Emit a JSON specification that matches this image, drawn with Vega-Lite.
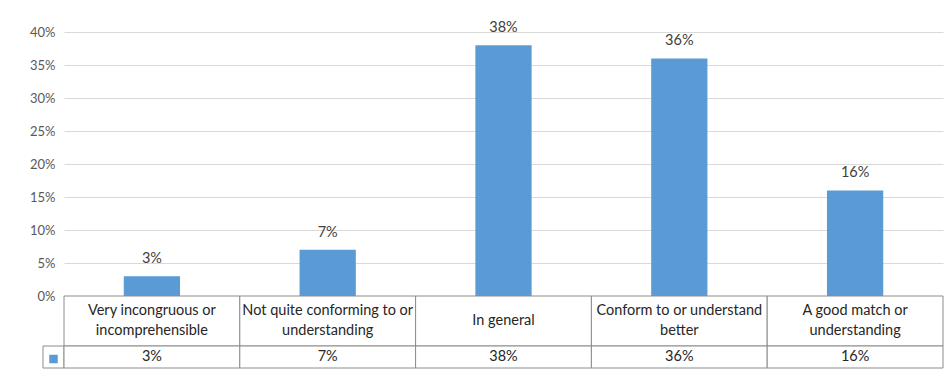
{
  "$schema": "https://vega.github.io/schema/vega-lite/v6.json",
  "background": "white",
  "padding": {"left": 29, "top": 20, "right": 4, "bottom": 10},
  "datasets": {
    "answers": [
      {"category": "Very incongruous or\nincomprehensible", "share": 0.03},
      {"category": "Not quite conforming to or\nunderstanding", "share": 0.07},
      {"category": "In general", "share": 0.38},
      {"category": "Conform to or understand\nbetter", "share": 0.36},
      {"category": "A good match or\nunderstanding", "share": 0.16}
    ],
    "series": [{"series": "Share"}]
  },
  "columns": 2,
  "spacing": 0,
  "bounds": "flush",
  "concat": [
    {
      "width": 21,
      "height": 264,
      "data": {"values": []},
      "mark": "point"
    },
    {
      "width": 879,
      "height": 264,
      "data": {"name": "answers"},
      "encoding": {
        "x": {
          "field": "category",
          "type": "nominal",
          "sort": null,
          "axis": null,
          "scale": {"paddingInner": 0.68, "paddingOuter": 0.34}
        },
        "y": {
          "field": "share",
          "type": "quantitative",
          "scale": {"domain": [0, 0.4], "nice": false},
          "axis": {
            "values": [0, 0.05, 0.1, 0.15, 0.2, 0.25, 0.3, 0.35, 0.4],
            "format": ".0%",
            "title": null,
            "domain": false,
            "ticks": false,
            "grid": true,
            "gridColor": "#d9d9d9",
            "gridWidth": 1,
            "labelPadding": 9,
            "labelFontSize": 13,
            "labelColor": "#595959"
          }
        }
      },
      "layer": [
        {"mark": {"type": "bar", "color": "#5b9bd5"}},
        {
          "mark": {
            "type": "text",
            "baseline": "alphabetic",
            "dy": -13,
            "fontSize": 14.5,
            "color": "#404040"
          },
          "encoding": {"text": {"field": "share", "type": "quantitative", "format": ".0%"}}
        }
      ]
    },
    {
      "width": 21,
      "height": 50,
      "data": {"values": []},
      "mark": "point"
    },
    {
      "width": 879,
      "height": 50,
      "data": {"name": "answers"},
      "encoding": {
        "x": {
          "field": "category",
          "type": "nominal",
          "sort": null,
          "axis": null,
          "scale": {"paddingInner": 0, "paddingOuter": 0}
        }
      },
      "layer": [
        {"mark": {"type": "rect", "fill": "white", "stroke": "#8c8c8c", "strokeWidth": 1}},
        {
          "transform": [{"filter": "indexof(datum.category, '\\n') < 0"}],
          "mark": {"type": "text", "baseline": "middle", "fontSize": 14.5, "color": "#262626"},
          "encoding": {"text": {"field": "category", "type": "nominal"}}
        },
        {
          "transform": [{"filter": "indexof(datum.category, '\\n') >= 0"}],
          "mark": {"type": "text", "baseline": "middle", "dy": -10, "fontSize": 14.5, "lineHeight": 20, "color": "#262626"},
          "encoding": {"text": {"field": "category", "type": "nominal"}}
        }
      ]
    },
    {
      "width": 21,
      "height": 22,
      "data": {"name": "series"},
      "encoding": {
        "x": {
          "field": "series",
          "type": "nominal",
          "axis": null,
          "scale": {"paddingInner": 0, "paddingOuter": 0}
        }
      },
      "layer": [
        {"mark": {"type": "rect", "fill": "white", "stroke": "#8c8c8c", "strokeWidth": 1}},
        {"mark": {"type": "point", "shape": "square", "filled": true, "size": 72, "color": "#5b9bd5", "opacity": 1, "yOffset": 2}}
      ]
    },
    {
      "width": 879,
      "height": 22,
      "data": {"name": "answers"},
      "encoding": {
        "x": {
          "field": "category",
          "type": "nominal",
          "sort": null,
          "axis": null,
          "scale": {"paddingInner": 0, "paddingOuter": 0}
        }
      },
      "layer": [
        {"mark": {"type": "rect", "fill": "white", "stroke": "#8c8c8c", "strokeWidth": 1}},
        {
          "mark": {"type": "text", "baseline": "middle", "fontSize": 14.5, "color": "#262626"},
          "encoding": {"text": {"field": "share", "type": "quantitative", "format": ".0%"}}
        }
      ]
    }
  ],
  "config": {
    "view": {"stroke": null},
    "font": "Lato",
    "text": {"lineBreak": "\n"}
  }
}
